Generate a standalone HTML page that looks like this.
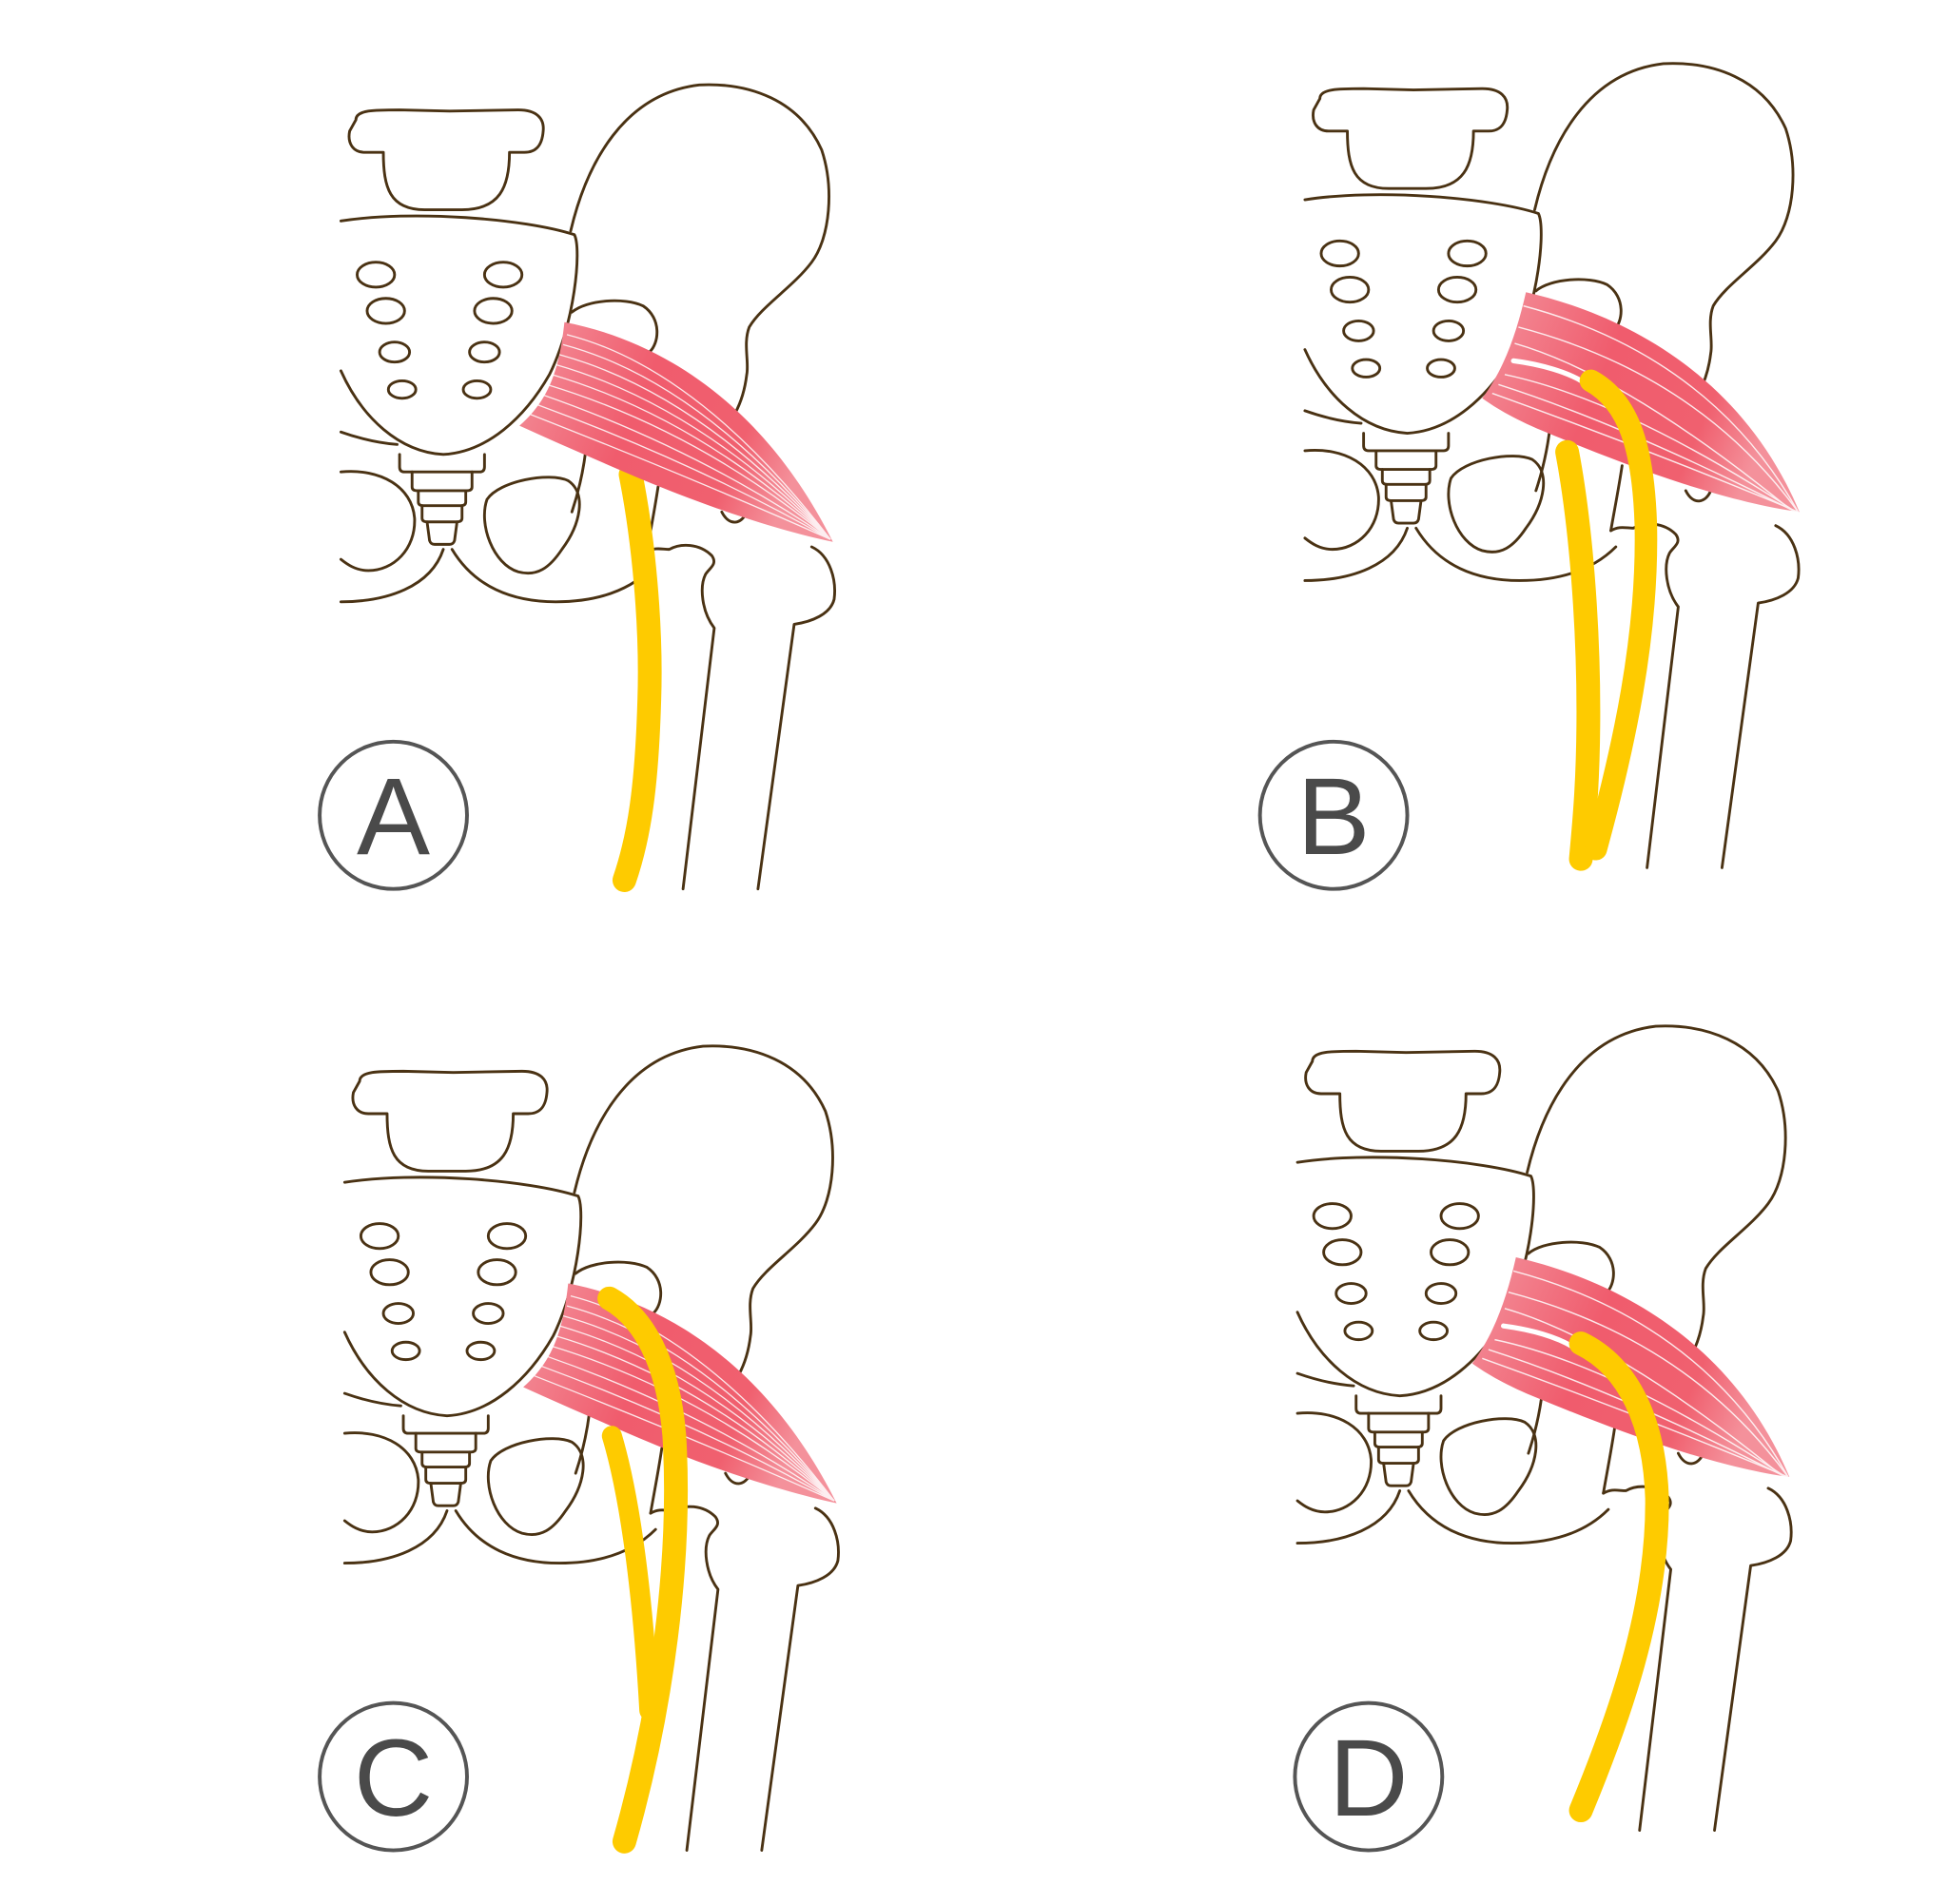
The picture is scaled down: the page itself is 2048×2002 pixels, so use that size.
<!DOCTYPE html>
<html><head><meta charset="utf-8"><style>html,body{margin:0;padding:0;background:#fff}svg{display:block}</style></head>
<body>
<svg width="2048" height="2002" viewBox="0 0 1560 1525" preserveAspectRatio="none" xmlns="http://www.w3.org/2000/svg">
<defs>
<linearGradient id="mg" x1="0" y1="0" x2="1" y2="0.3">
<stop offset="0" stop-color="#f3939d"/><stop offset="0.45" stop-color="#f05c6d"/><stop offset="0.8" stop-color="#f0606f"/><stop offset="1" stop-color="#f4919b"/>
</linearGradient>
<g id="bones" fill="none" stroke="#4a3213" stroke-width="2.2" stroke-linejoin="round" stroke-linecap="round">
<path d="M285,96 C285,88 300,88 320,88 L360,89 L415,88 C430,88 436,95 435,105 C434,118 428,122 420,122 L408,122 C408,150 400,168 370,168 L340,168 C312,168 307,150 307,122 L292,122 C283,122 278,115 280,105 Z"/>
<path d="M273,177 C330,168 420,175 460,188 C466,200 460,260 440,300 C420,335 390,362 355,364 C320,362 290,335 273,297"/>
<ellipse cx="301" cy="220" rx="15" ry="10"/><ellipse cx="403" cy="220" rx="15" ry="10"/>
<ellipse cx="309" cy="249" rx="15" ry="10"/><ellipse cx="395" cy="249" rx="15" ry="10"/>
<ellipse cx="316" cy="282" rx="12" ry="8"/><ellipse cx="388" cy="282" rx="12" ry="8"/>
<ellipse cx="322" cy="312" rx="11" ry="7"/><ellipse cx="382" cy="312" rx="11" ry="7"/>
<path d="M273,346 C290,352 305,355 318,356"/>
<path d="M320,364 L320,374 Q320,378 324,378 L384,378 Q388,378 388,374 L388,364"/>
<path d="M330,378 L330,390 Q330,393 334,393 L374,393 Q378,393 378,390 L378,378"/>
<path d="M335,393 L335,402 Q335,405 339,405 L369,405 Q373,405 373,402 L373,393"/>
<path d="M338,405 L338,415 Q338,418 342,418 L366,418 Q370,418 370,415 L370,405"/>
<path d="M342,418 L344,433 Q345,436 348,436 L360,436 Q363,436 364,433 L366,418"/>
<path d="M273,378 C305,375 330,390 332,415 C333,440 315,457 295,457 C285,457 278,452 273,448"/>
<path d="M273,482 C310,482 345,470 355,440"/>
<path d="M362,440 C380,470 410,482 445,482 C480,482 505,472 522,455"/>
<path d="M390,400 C400,385 440,378 455,385 C470,395 465,420 450,440 C440,455 430,462 415,458 C395,452 383,420 390,400 Z"/>
<path d="M470,352 C468,375 463,395 458,410"/>
<path d="M458,250 C470,240 500,238 515,245 C530,255 528,275 520,282"/>
<path d="M457,185 C470,130 500,75 560,68 C600,66 640,80 658,120 C668,150 665,190 650,210 C635,230 610,245 600,262 C595,275 600,290 598,300 C595,325 585,340 572,352"/>
<path d="M527,390 C524,410 520,430 518,442"/>
<path d="M518,442 C525,438 530,440 536,440 C545,435 560,435 570,445 C575,452 568,455 565,460 C560,470 562,490 572,503 L547,712"/>
<path d="M598,410 C594,420 584,422 578,410"/>
<path d="M650,438 C665,445 670,465 668,480 C665,492 650,498 636,500 L607,712"/>
</g>
<g id="musA">
<path d="M452,258 C525,272 610,320 667,434 C620,424 560,404 500,378 C470,365 440,352 416,341 C440,320 448,295 452,258 Z" fill="url(#mg)"/>
<g fill="none" stroke="#fff" stroke-width="1" opacity="0.85">
<path d="M454,268 Q560,295 665,432"/><path d="M451,276 Q560,305 665,432"/><path d="M448,284 Q560,315 665,432"/>
<path d="M445,292 Q560,325 665,432"/><path d="M442,300 Q560,335 665,432"/><path d="M438,308 Q560,345 665,432"/>
<path d="M434,316 Q560,360 665,432"/><path d="M430,324 Q560,372 665,432"/><path d="M425,332 Q560,385 665,432"/>
</g>
</g>
<g id="musB">
<path d="M1222,234 C1300,252 1395,300 1441,410 C1380,402 1300,372 1240,347 C1215,337 1198,327 1187,319 C1205,295 1215,265 1222,234 Z" fill="url(#mg)"/>
<g fill="none" stroke="#fff" stroke-width="1.1" opacity="0.85">
<path d="M1220,245 Q1370,285 1440,410"/><path d="M1216,262 Q1360,300 1440,410"/><path d="M1213,275 Q1300,300 1430,405"/>
<path d="M1205,300 Q1300,320 1435,408"/><path d="M1200,308 Q1300,340 1438,410"/><path d="M1195,315 Q1320,360 1440,410"/>
</g>
<path d="M1212,289 C1235,292 1255,298 1268,306" fill="none" stroke="#fff" stroke-width="4" stroke-linecap="round"/>
</g>
</defs>

<!-- Panel A -->
<use href="#bones"/>
<path d="M505,380 C515,430 522,500 520,560 C518,630 512,670 500,705" fill="none" stroke="#fecb00" stroke-width="19" stroke-linecap="round"/>
<use href="#musA"/>
<circle cx="315" cy="653" r="59" fill="none" stroke="#555" stroke-width="3"/>
<text x="315" y="684" text-anchor="middle" font-family="Liberation Sans, sans-serif" font-size="88" fill="#4a4a4a">A</text>

<!-- Panel B -->
<use href="#bones" transform="translate(772,-17)"/>
<use href="#musB"/>
<path d="M1255,362 C1266,420 1272,500 1272,570 C1272,630 1268,665 1266,688" fill="none" stroke="#fecb00" stroke-width="19" stroke-linecap="round"/>
<path d="M1274,305 C1305,322 1316,360 1318,420 C1320,510 1300,600 1278,680" fill="none" stroke="#fecb00" stroke-width="18" stroke-linecap="round"/>
<circle cx="1068" cy="653" r="59" fill="none" stroke="#555" stroke-width="3"/>
<text x="1068" y="684" text-anchor="middle" font-family="Liberation Sans, sans-serif" font-size="88" fill="#4a4a4a">B</text>

<!-- Panel C -->
<use href="#bones" transform="translate(3,770)"/>
<use href="#musA" transform="translate(3,770)"/>
<path d="M490,1150 C505,1200 515,1280 520,1370" fill="none" stroke="#fecb00" stroke-width="16" stroke-linecap="round"/>
<path d="M488,1040 C515,1055 535,1090 540,1150 C546,1250 530,1370 500,1475" fill="none" stroke="#fecb00" stroke-width="19" stroke-linecap="round"/>
<circle cx="315" cy="1423" r="59" fill="none" stroke="#555" stroke-width="3"/>
<text x="315" y="1454" text-anchor="middle" font-family="Liberation Sans, sans-serif" font-size="88" fill="#4a4a4a">C</text>

<!-- Panel D -->
<use href="#bones" transform="translate(766,754)"/>
<use href="#musB" transform="translate(-8,773)"/>
<path d="M1266,1076 C1305,1095 1325,1140 1327,1200 C1328,1290 1295,1380 1266,1450" fill="none" stroke="#fecb00" stroke-width="19" stroke-linecap="round"/>
<circle cx="1096" cy="1423" r="59" fill="none" stroke="#555" stroke-width="3"/>
<text x="1096" y="1454" text-anchor="middle" font-family="Liberation Sans, sans-serif" font-size="88" fill="#4a4a4a">D</text>
</svg>
</body></html>
